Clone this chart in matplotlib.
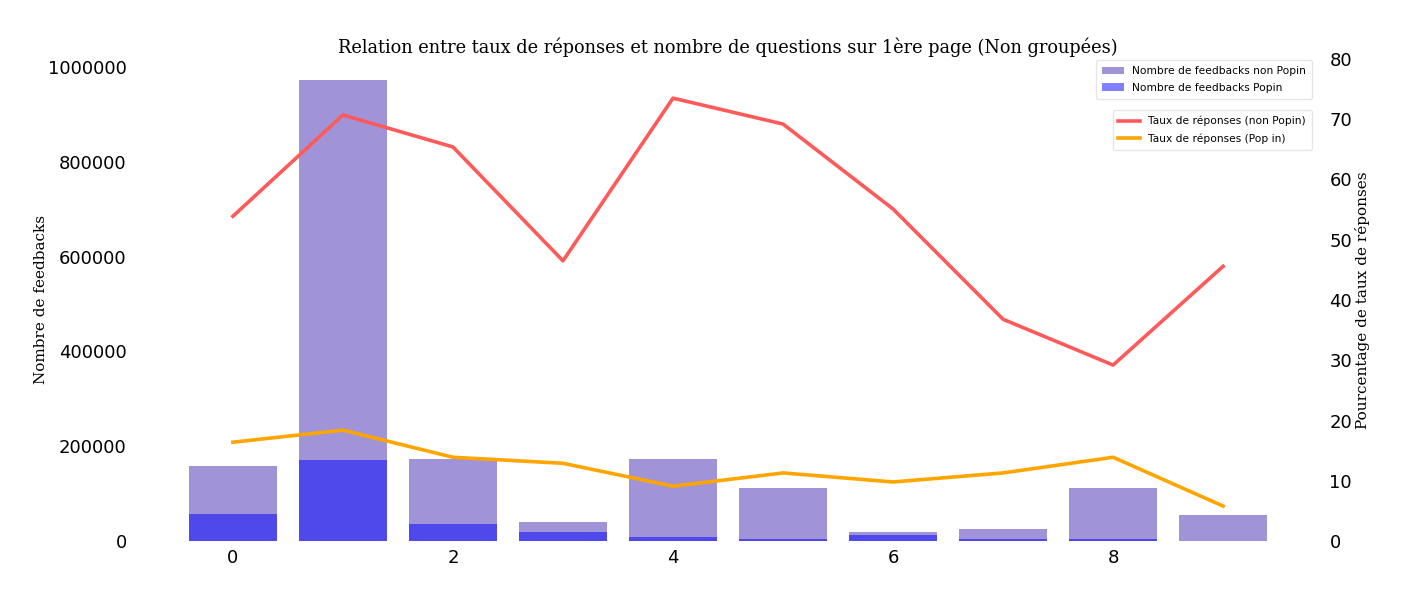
import matplotlib
matplotlib.use("Agg")
import matplotlib.pyplot as plt
import numpy as np

x = list(range(10))
feedbacks_non_popin = [158000, 973000, 173000, 40000, 173000, 112000, 20000, 25000, 112000, 55000]
feedbacks_popin = [57000, 171000, 36000, 19000, 8000, 4000, 13000, 4000, 5000, 1000]
taux_non_popin = [53.9, 70.7, 65.4, 46.5, 73.5, 69.2, 55.1, 36.8, 29.2, 45.6]
taux_popin = [16.4, 18.4, 13.9, 12.9, 9.1, 11.3, 9.8, 11.3, 13.9, 5.8]

fig = plt.figure(figsize=(14.03, 6.0), dpi=100)
ax = fig.add_axes([0.0962, 0.0983, 0.8454, 0.8034])
ax.bar(x, feedbacks_non_popin, width=0.8, color="#a093d8", label="Nombre de feedbacks non Popin")
ax.bar(x, feedbacks_popin, width=0.8, color="blue", alpha=0.5, label="Nombre de feedbacks Popin")
ax.set_ylim(0, 1017000)
ax.set_xlim(-0.89, 9.89)
ax.set_xticks([0, 2, 4, 6, 8])
ax.set_yticks([0, 200000, 400000, 600000, 800000, 1000000])
ax.ticklabel_format(axis="y", style="plain")
ax.tick_params(labelsize=13, length=0, pad=6)
ax.set_ylabel("Nombre de feedbacks", family="DejaVu Serif", fontsize=11, labelpad=0)
for s in ax.spines.values():
    s.set_visible(False)
ax.legend(loc="upper right", bbox_to_anchor=(0.9968, 1.0087), fontsize=7.7,
          framealpha=1, edgecolor="#e6e6e6", fancybox=True,
          labelspacing=0.65, borderpad=0.55)

ax2 = ax.twinx()
ax2.plot(x, taux_non_popin, color="#ff5a5a", lw=2.6, label="Taux de réponses (non Popin)")
ax2.plot(x, taux_popin, color="orange", lw=2.6, label="Taux de réponses (Pop in)")
ax2.set_ylim(0, 80)
ax2.set_yticks([0, 10, 20, 30, 40, 50, 60, 70, 80])
ax2.tick_params(labelsize=13, length=0, pad=6)
ax2.set_ylabel("Pourcentage de taux de réponses", family="DejaVu Serif", fontsize=11, labelpad=2)
for s in ax2.spines.values():
    s.set_visible(False)
ax2.legend(loc="upper right", bbox_to_anchor=(0.9968, 0.9054), fontsize=7.7,
           framealpha=1, edgecolor="#e6e6e6", fancybox=True,
           labelspacing=0.65, borderpad=0.55)

ax.set_title("Relation entre taux de réponses et nombre de questions sur 1ère page (Non groupées)",
             family="DejaVu Serif", fontsize=12.8, pad=4)

fig.savefig("out.png", dpi=100)
